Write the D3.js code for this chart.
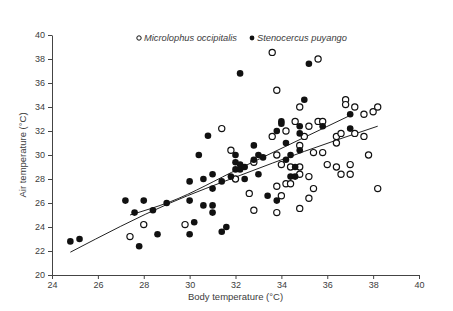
<!DOCTYPE html>
<html>
<head>
<meta charset="utf-8">
<script src="https://cdn.jsdelivr.net/npm/d3@7"></script>
<style>
  body { margin: 0; background: #fff; }
  svg { display: block; font-family: "Liberation Sans", Arial, sans-serif; }
</style>
</head>
<body>
<svg></svg>
<script>
// Microlophus occipitalis (open circles): [body temp, air temp]
const microlophus = [
    [27.4, 23.2], [28.0, 24.2], [29.8, 24.2], [31.4, 32.2], [31.8, 30.4],
    [32.0, 28.0], [32.6, 26.8], [32.8, 25.4], [32.8, 29.4], [33.6, 38.55],
    [33.6, 31.55], [33.8, 35.4], [33.8, 30.0], [33.8, 27.4], [33.8, 25.2],
    [34.0, 29.2], [34.0, 26.6], [34.2, 32.0], [34.2, 27.6], [34.4, 29.0],
    [34.4, 27.6], [34.6, 32.8], [34.8, 34.0], [34.8, 30.8], [34.8, 29.0],
    [34.8, 28.4], [34.8, 25.55], [35.0, 31.55], [35.2, 32.4], [35.2, 28.2],
    [35.2, 26.4], [35.4, 30.2], [35.4, 27.2], [35.6, 32.8], [35.6, 38.0],
    [35.8, 32.8], [35.8, 30.2], [36.0, 29.2], [36.4, 31.55], [36.4, 31.0],
    [36.4, 29.0], [36.6, 31.8], [36.6, 28.4], [36.8, 34.6], [36.8, 34.2],
    [37.0, 29.2], [37.0, 28.4], [37.2, 34.0], [37.2, 31.8], [37.6, 33.4],
    [37.6, 31.55], [37.8, 30.0], [38.0, 33.6], [38.2, 34.0], [38.2, 27.2]
];

// Stenocercus puyango (filled circles)
const stenocercus = [
    [24.8, 22.8], [25.2, 23.0], [27.2, 26.2], [27.6, 25.2], [27.8, 22.4],
    [28.0, 26.2], [28.4, 25.4], [28.6, 23.4], [29.0, 26.0], [30.0, 27.8],
    [30.0, 26.2], [30.0, 23.4], [30.2, 24.4], [30.4, 30.0], [30.6, 28.0],
    [30.6, 25.8], [30.8, 31.6], [31.0, 28.4], [31.0, 27.2], [31.0, 25.8],
    [31.0, 25.2], [31.4, 27.8], [31.4, 23.6], [31.6, 24.0], [31.8, 28.2],
    [32.0, 30.0], [32.0, 29.4], [32.0, 28.8], [32.2, 36.8], [32.2, 29.2],
    [32.2, 28.8], [32.4, 29.0], [32.4, 28.0], [32.8, 30.8], [32.8, 29.6],
    [33.0, 30.0], [33.0, 28.4], [33.2, 29.8], [33.4, 26.6], [33.8, 32.0],
    [33.8, 26.2], [34.0, 32.8], [34.0, 32.6], [34.2, 31.0], [34.2, 29.6],
    [34.4, 30.0], [34.4, 28.2], [34.6, 29.0], [34.6, 28.2], [34.8, 32.4],
    [34.8, 31.8], [34.8, 30.4], [35.0, 34.6], [35.2, 37.6], [35.8, 32.4],
    [37.0, 33.4], [37.0, 32.2]
];

// fitted curves, points
const fitUpper = [[27.4, 25.0], [29.15, 26.1], [32.2, 28.9], [37.0, 33.3]];
const fitLower = [[24.8, 21.9], [29.15, 26.0], [32.2, 28.3], [35.0, 30.3], [38.2, 32.4]];

const xTicks = [24, 26, 28, 30, 32, 34, 36, 38, 40];
const yTicks = [20, 22, 24, 26, 28, 30, 32, 34, 36, 38, 40];

const legendItems = [
    { label: "Microlophus occipitalis", filled: false },
    { label: "Stenocercus puyango", filled: true }
];

const W = 453, H = 311;
const margin = {top: 35, right: 34, bottom: 36, left: 52};

const svg = d3.select("svg").attr("width", W).attr("height", H);

const x = d3.scaleLinear().domain([24, 40]).range([margin.left, W - margin.right]);
const y = d3.scaleLinear().domain([20, 40]).range([H - margin.bottom, margin.top]);

const textColor = "#3c3c3c";

// axes
const xAxis = svg.append("g")
    .attr("transform", `translate(0,${H - margin.bottom})`)
    .call(d3.axisBottom(x).tickValues(xTicks).tickSize(4).tickSizeOuter(0).tickPadding(3));
const yAxis = svg.append("g")
    .attr("transform", `translate(${margin.left},0)`)
    .call(d3.axisLeft(y).tickValues(yTicks).tickSize(4).tickSizeOuter(0).tickPadding(3));

[xAxis, yAxis].forEach(g => {
    g.select(".domain").attr("stroke", "#444");
    g.selectAll(".tick line").attr("stroke", "#444");
    g.selectAll(".tick text")
        .attr("fill", textColor)
        .style("font-size", "9px")
        .style("font-family", "'Liberation Sans', Arial, sans-serif");
});

// axis titles
svg.append("text")
    .attr("x", x(32))
    .attr("y", H - 11)
    .attr("text-anchor", "middle")
    .attr("fill", textColor)
    .style("font-size", "9.5px")
    .text("Body temperature (°C)");

svg.append("text")
    .attr("transform", `translate(26,${y(30)}) rotate(-90)`)
    .attr("text-anchor", "middle")
    .attr("fill", textColor)
    .style("font-size", "9.5px")
    .text("Air temperature (°C)");

// fit curves
const line = d3.line()
    .x(d => x(d[0]))
    .y(d => y(d[1]))
    .curve(d3.curveMonotoneX);

svg.selectAll("path.fit")
    .data([fitUpper, fitLower])
    .join("path")
    .attr("class", "fit")
    .attr("d", line)
    .attr("fill", "none")
    .attr("stroke", "#222")
    .attr("stroke-width", 1);

// points
svg.append("g").selectAll("circle")
    .data(microlophus)
    .join("circle")
    .attr("cx", d => x(d[0]))
    .attr("cy", d => y(d[1]))
    .attr("r", 3.1)
    .attr("fill", "#fff")
    .attr("stroke", "#111")
    .attr("stroke-width", 1.2);

svg.append("g").selectAll("circle")
    .data(stenocercus)
    .join("circle")
    .attr("cx", d => x(d[0]))
    .attr("cy", d => y(d[1]))
    .attr("r", 3.3)
    .attr("fill", "#111");

// legend
const legendX = [139, 252];
const legend = svg.append("g").selectAll("g")
    .data(legendItems)
    .join("g")
    .attr("transform", (d, i) => `translate(${legendX[i]},38)`);

legend.append("circle")
    .attr("r", d => d.filled ? 2.4 : 2.2)
    .attr("fill", d => d.filled ? "#111" : "#fff")
    .attr("stroke", d => d.filled ? "none" : "#111")
    .attr("stroke-width", 1);

legend.append("text")
    .attr("x", 5)
    .attr("y", 3.3)
    .attr("fill", textColor)
    .style("font-size", "9.3px")
    .style("font-style", "italic")
    .text(d => d.label);
</script>
</body>
</html>
